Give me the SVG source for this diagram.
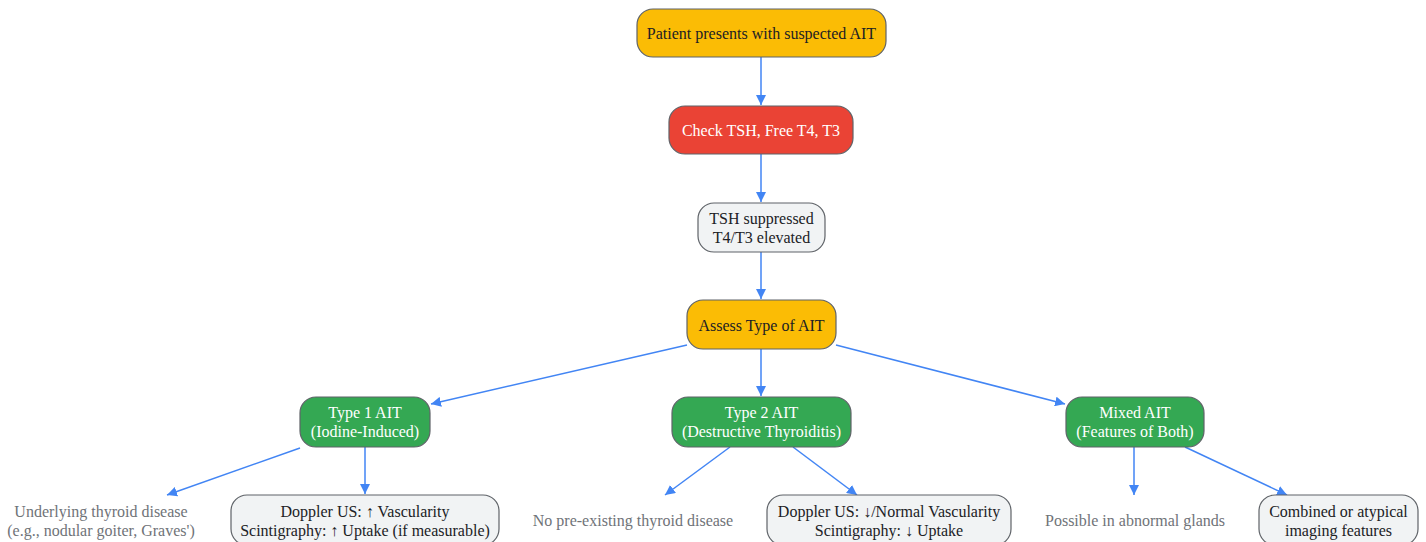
<svg xmlns="http://www.w3.org/2000/svg" width="1426" height="542" viewBox="0 0 1426 542">
<style>
text{font-family:"Liberation Serif","Times New Roman",serif;font-size:16px;text-anchor:middle}
.n{stroke:#5f6368;stroke-width:1.2}
.y{fill:#FBBC05}.r{fill:#EA4335}.g{fill:#34A853}.l{fill:#F1F3F4}
.dk{fill:#202124}.wt{fill:#ffffff}.gr{fill:#6f7378}
.e{stroke:#4285F4;stroke-width:1.5;fill:none;marker-end:url(#a)}
</style>
<defs>
<marker id="a" viewBox="0 0 10 10" refX="10" refY="5" markerWidth="10" markerHeight="10" markerUnits="userSpaceOnUse" orient="auto">
<path d="M0,0 L10,5 L0,10 z" fill="#4285F4"/>
</marker>
</defs>
<g id="edges">
<path class="e" d="M761,57 L761,105"/>
<path class="e" d="M761,154 L761,202"/>
<path class="e" d="M761,252 L761,299"/>
<path class="e" d="M687,345 L431,404"/>
<path class="e" d="M761,349 L761,396"/>
<path class="e" d="M836,345 L1065,404"/>
<path class="e" d="M300,448 L167,495"/>
<path class="e" d="M365,447 L365,494"/>
<path class="e" d="M730,447 L665,495"/>
<path class="e" d="M793,447 L857,495"/>
<path class="e" d="M1134,447 L1134,495"/>
<path class="e" d="M1185,447 L1287,495"/>
</g>
<g id="n1"><rect class="n y" x="637" y="9" width="249" height="48" rx="16"/><text class="dk" x="761.5" y="39">Patient presents with suspected AIT</text></g>
<g id="n2"><rect class="n r" x="669" y="106" width="184" height="48" rx="16"/><text class="wt" x="761" y="136">Check TSH, Free T4, T3</text></g>
<g id="n3"><rect class="n l" x="698" y="203" width="127" height="49" rx="16"/><text class="dk" x="761.5" y="224">TSH suppressed</text><text class="dk" x="761.5" y="243">T4/T3 elevated</text></g>
<g id="n4"><rect class="n y" x="687" y="300" width="149" height="49" rx="16"/><text class="dk" x="761.5" y="331">Assess Type of AIT</text></g>
<g id="t1"><rect class="n g" x="300" y="397" width="130" height="50" rx="16"/><text class="wt" x="365" y="418">Type 1 AIT</text><text class="wt" x="365" y="437">(Iodine-Induced)</text></g>
<g id="t2"><rect class="n g" x="672" y="397" width="179" height="50" rx="16"/><text class="wt" x="761.5" y="418">Type 2 AIT</text><text class="wt" x="761.5" y="437">(Destructive Thyroiditis)</text></g>
<g id="t3"><rect class="n g" x="1066" y="397" width="138" height="50" rx="16"/><text class="wt" x="1135" y="418">Mixed AIT</text><text class="wt" x="1135" y="437">(Features of Both)</text></g>
<g id="u1"><text class="gr" x="101" y="517">Underlying thyroid disease</text><text class="gr" x="101" y="536">(e.g., nodular goiter, Graves')</text></g>
<g id="d1"><rect class="n l" x="231" y="495" width="268" height="50" rx="16"/><text class="dk" x="365" y="517">Doppler US: ↑ Vascularity</text><text class="dk" x="365" y="536">Scintigraphy: ↑ Uptake (if measurable)</text></g>
<g id="u2"><text class="gr" x="633" y="526">No pre-existing thyroid disease</text></g>
<g id="d2"><rect class="n l" x="767" y="495" width="244" height="50" rx="16"/><text class="dk" x="889" y="517">Doppler US: ↓/Normal Vascularity</text><text class="dk" x="889" y="536">Scintigraphy: ↓ Uptake</text></g>
<g id="u3"><text class="gr" x="1135" y="526">Possible in abnormal glands</text></g>
<g id="d3"><rect class="n l" x="1259" y="495" width="159" height="50" rx="16"/><text class="dk" x="1338.5" y="517">Combined or atypical</text><text class="dk" x="1338.5" y="536">imaging features</text></g>
</svg>
